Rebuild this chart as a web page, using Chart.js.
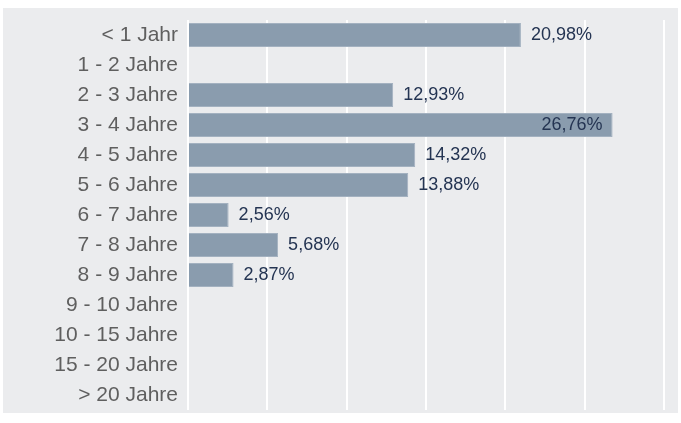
<!DOCTYPE html>
<html>
<head>
<meta charset="utf-8">
<script src="https://cdn.jsdelivr.net/npm/chart.js@4/dist/chart.umd.min.js"></script>
<style>
    html, body { margin: 0; padding: 0; background: #ffffff; }
    #wrap { width: 681px; height: 423px; position: relative; }
</style>
</head>
<body>
<div id="wrap"><canvas id="chart" width="681" height="423"></canvas></div>
<script>
// Kategorien und Werte (Anteil in %)
const categories = [
    '< 1 Jahr', '1 - 2 Jahre', '2 - 3 Jahre', '3 - 4 Jahre', '4 - 5 Jahre',
    '5 - 6 Jahre', '6 - 7 Jahre', '7 - 8 Jahre', '8 - 9 Jahre', '9 - 10 Jahre',
    '10 - 15 Jahre', '15 - 20 Jahre', '> 20 Jahre'
];
const shares = [20.98, 0, 12.93, 26.76, 14.32, 13.88, 2.56, 5.68, 2.87, 0, 0, 0, 0];
const xTicks = [0, 5, 10, 15, 20, 25, 30];

// grauer Hintergrund hinter dem Diagramm
const panelBg = {
    id: 'panelBg',
    beforeDraw(chart) {
        const ctx = chart.ctx;
        ctx.save();
        ctx.fillStyle = '#ebecee';
        ctx.fillRect(3, 8, 675, 405);
        ctx.restore();
    }
};

// Prozentwerte an die Balken schreiben (ohne datalabels-Plugin)
const valueLabels = {
    id: 'valueLabels',
    afterDatasetsDraw(chart) {
        const ctx = chart.ctx;
        const meta = chart.getDatasetMeta(0);
        const area = chart.chartArea;
        ctx.save();
        ctx.font = '18px "Liberation Sans", Arial, sans-serif';
        ctx.fillStyle = '#243452';
        ctx.textBaseline = 'middle';
        meta.data.forEach((bar, i) => {
            const v = shares[i];
            if (!v) return;
            const txt = v.toFixed(2).replace('.', ',') + '%';
            const w = ctx.measureText(txt).width;
            if (bar.x + 10 + w > area.right) {
                ctx.textAlign = 'right';
                ctx.fillText(txt, bar.x - 10, bar.y);
            } else {
                ctx.textAlign = 'left';
                ctx.fillText(txt, bar.x + 10, bar.y);
            }
        });
        ctx.restore();
    }
};

const ctx = document.getElementById('chart').getContext('2d');
new Chart(ctx, {
    type: 'bar',
    data: {
        labels: categories,
        datasets: [{
            data: shares,
            backgroundColor: '#8a9cae',
            borderColor: '#a3b1c0',
            borderWidth: 1,
            barPercentage: 0.8,
            categoryPercentage: 1
        }]
    },
    options: {
        indexAxis: 'y',
        responsive: false,
        animation: false,
        layout: { padding: { top: 20, bottom: 13, right: 17, left: 0 } },
        plugins: {
            legend: { display: false },
            tooltip: { enabled: false }
        },
        scales: {
            x: {
                min: xTicks[0],
                max: xTicks[xTicks.length - 1],
                afterBuildTicks: (scale) => { scale.ticks = xTicks.map(v => ({ value: v })); },
                ticks: { display: false },
                border: { display: false },
                grid: { color: '#ffffff', lineWidth: 2, drawTicks: false },
                afterFit: (scale) => { scale.height = 0; }
            },
            y: {
                border: { display: false },
                grid: { display: false, drawTicks: false },
                ticks: {
                    color: '#5f5f5f',
                    padding: 10,
                    font: { family: '"Liberation Sans", Arial, sans-serif', size: 21 }
                },
                afterFit: (scale) => {
                    scale.width = 188;
                    scale.paddingTop = 0;
                    scale.paddingBottom = 0;
                }
            }
        }
    },
    plugins: [panelBg, valueLabels]
});
</script>
</body>
</html>
